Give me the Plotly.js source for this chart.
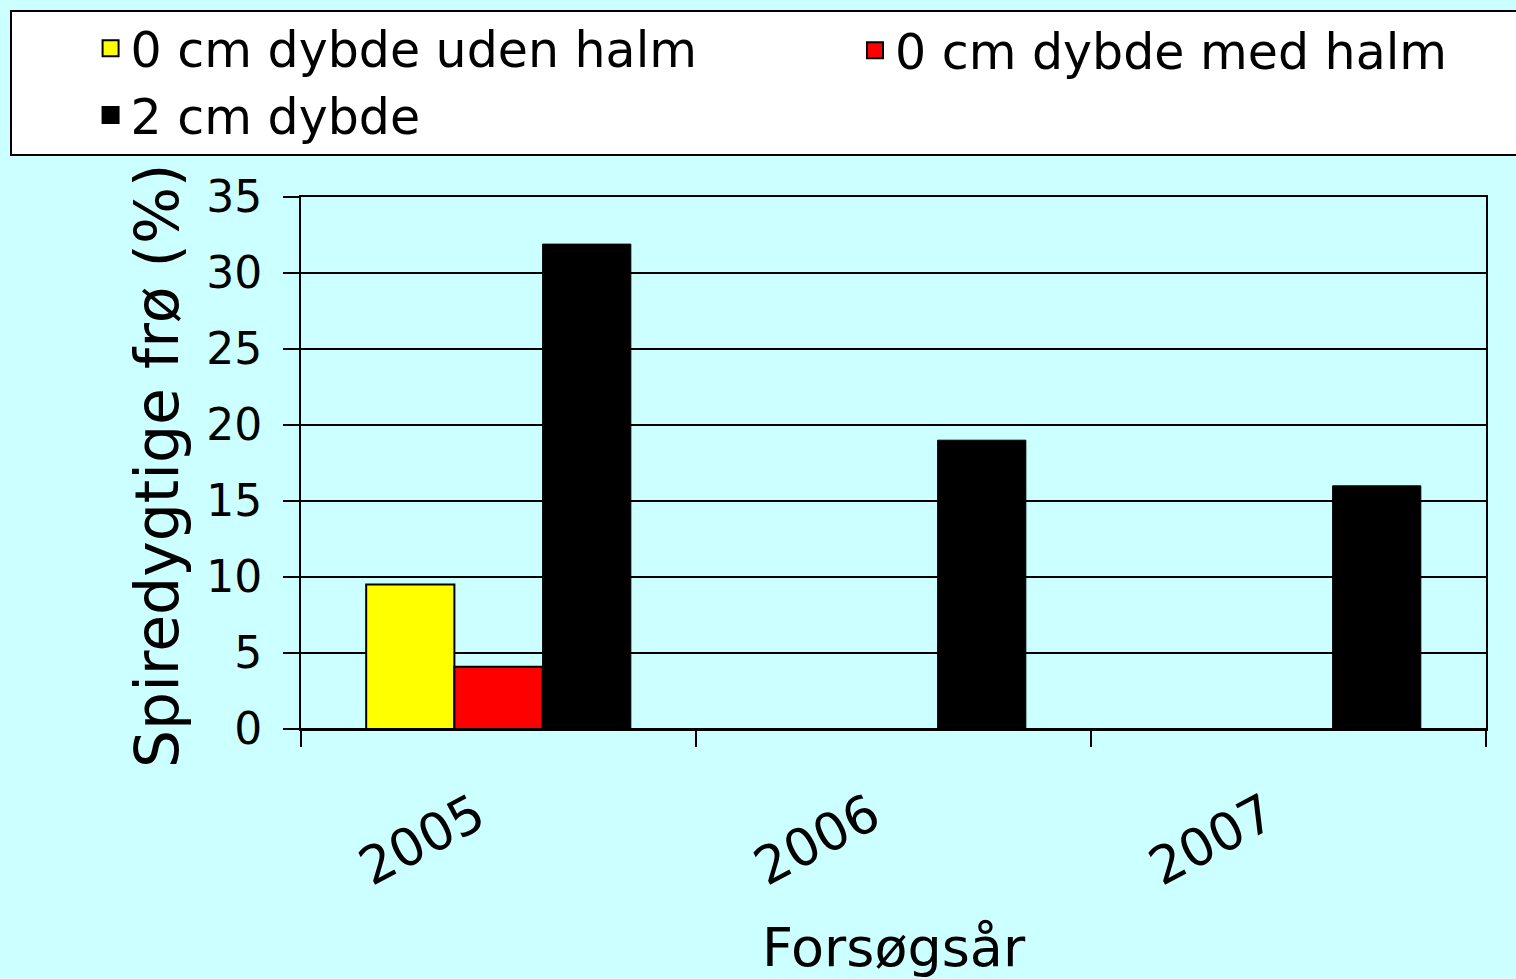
<!DOCTYPE html>
<html>
<head>
<meta charset="utf-8">
<script src="https://cdn.plot.ly/plotly-3.0.1.min.js"></script>
<style>html,body{margin:0;padding:0;background:#CCFFFF;}#chart{width:1516px;height:979px;}</style>
</head>
<body>
<div id="chart"></div>
<script>
const years = ['2005', '2006', '2007'];
const seriesNames = ['0 cm dybde uden halm', '0 cm dybde med halm', '2 cm dybde'];
const udenHalm = [9.5, null, null];
const medHalm = [4.1, null, null];
const toCm = [31.9, 19.0, 16.0];
const yTicks = [0, 5, 10, 15, 20, 25, 30, 35];
const seriesColors = ['#FFFF00', '#FF0000', '#000000'];
const xTitle = 'Forsøgsår';
const yTitle = 'Spiredygtige frø (%)';

const FONT = 'Verdana, "DejaVu Sans", sans-serif';
const seriesValues = [udenHalm, medHalm, toCm];
const legendOf = ['legend', 'legend2', 'legend'];

const traces = seriesValues.map((vals, i) => ({
  type: 'bar', name: seriesNames[i], x: years, y: vals, showlegend: false,
  marker: {color: seriesColors[i], line: {color: '#000000', width: i < 2 ? 2 : 1}}
}));
// legend entries (bigger square symbols than the bar legend glyph)
seriesNames.forEach((nm, i) => {
  traces.push({
    type: 'scatter', mode: 'markers', name: nm, x: [years[0]], y: [null],
    legend: legendOf[i], showlegend: true, hoverinfo: 'skip',
    marker: {symbol: 'square', size: 16, color: seriesColors[i], line: {color: '#000000', width: 2}}
  });
});

const legendFont = {family: FONT, size: 49, color: '#000000'};

// plot area in pixels -> helpers to place frame/title in paper coords
const M = {l: 301, r: 30, t: 197, b: 250};
const PW = 1516 - M.l - M.r, PH = 979 - M.t - M.b;
const px2x = p => (p - M.l) / PW;
const px2y = p => (979 - M.b - p) / PH;

const layout = {
  width: 1516, height: 979,
  paper_bgcolor: '#CCFFFF', plot_bgcolor: '#CCFFFF',
  font: {family: FONT, color: '#000000', size: 40},
  margin: {l: M.l, r: M.r, t: M.t, b: M.b, pad: 0, autoexpand: false},
  barmode: 'group', bargap: 0.33, bargroupgap: 0,
  showlegend: true,
  shapes: [{
    type: 'rect', xref: 'paper', yref: 'paper', layer: 'above',
    x0: px2x(11), x1: px2x(1530), y0: px2y(155), y1: px2y(11),
    fillcolor: '#FFFFFF', line: {color: '#000000', width: 2}
  }],
  annotations: [{
    text: yTitle, textangle: -90, showarrow: false,
    xref: 'paper', yref: 'paper', x: px2x(157), y: px2y(466),
    xanchor: 'center', yanchor: 'middle',
    font: {family: FONT, size: 60, color: '#000000'}
  }],
  legend: {
    orientation: 'v', xref: 'container', yref: 'container',
    x: 10 / 1516, y: 1 - 10 / 979, xanchor: 'left', yanchor: 'top',
    bgcolor: 'rgba(0,0,0,0)', borderwidth: 0,
    font: legendFont,
    title: {text: '\u00a0\u00a0\u00a0\u00a0\u00a0\u00a0', font: {size: 37}, side: 'left'},
    traceorder: 'normal', itemwidth: 30, tracegroupgap: 0
  },
  legend2: {
    orientation: 'v', xref: 'container', yref: 'container',
    x: 855 / 1516, y: 1 - 12 / 979, xanchor: 'left', yanchor: 'top',
    bgcolor: 'rgba(0,0,0,0)', borderwidth: 0,
    font: legendFont, itemwidth: 30
  },
  xaxis: {
    type: 'category', categoryarray: years,
    tickangle: -28, tickson: 'boundaries',
    ticks: 'outside', ticklen: 16, tickwidth: 2, tickcolor: '#000000',
    showline: true, linecolor: '#000000', linewidth: 2, mirror: true,
    showgrid: false,
    tickfont: {family: FONT, size: 52},
    ticklabelstandoff: 34, ticklabelshift: -22,
    title: {text: xTitle, font: {family: FONT, size: 54}, standoff: 38}
  },
  yaxis: {
    range: [0, 35], tickvals: yTicks, ticktext: yTicks.map(String),
    ticks: 'outside', ticklen: 16, tickwidth: 2, tickcolor: '#000000',
    showline: true, linecolor: '#000000', linewidth: 2, mirror: true,
    showgrid: true, gridcolor: '#000000', gridwidth: 2,
    zeroline: true, zerolinecolor: '#000000', zerolinewidth: 2,
    tickfont: {family: FONT, size: 44},
    ticklabelstandoff: 12
  }
};

Plotly.newPlot('chart', traces, layout, {displayModeBar: false, staticPlot: true});
</script>
</body>
</html>
